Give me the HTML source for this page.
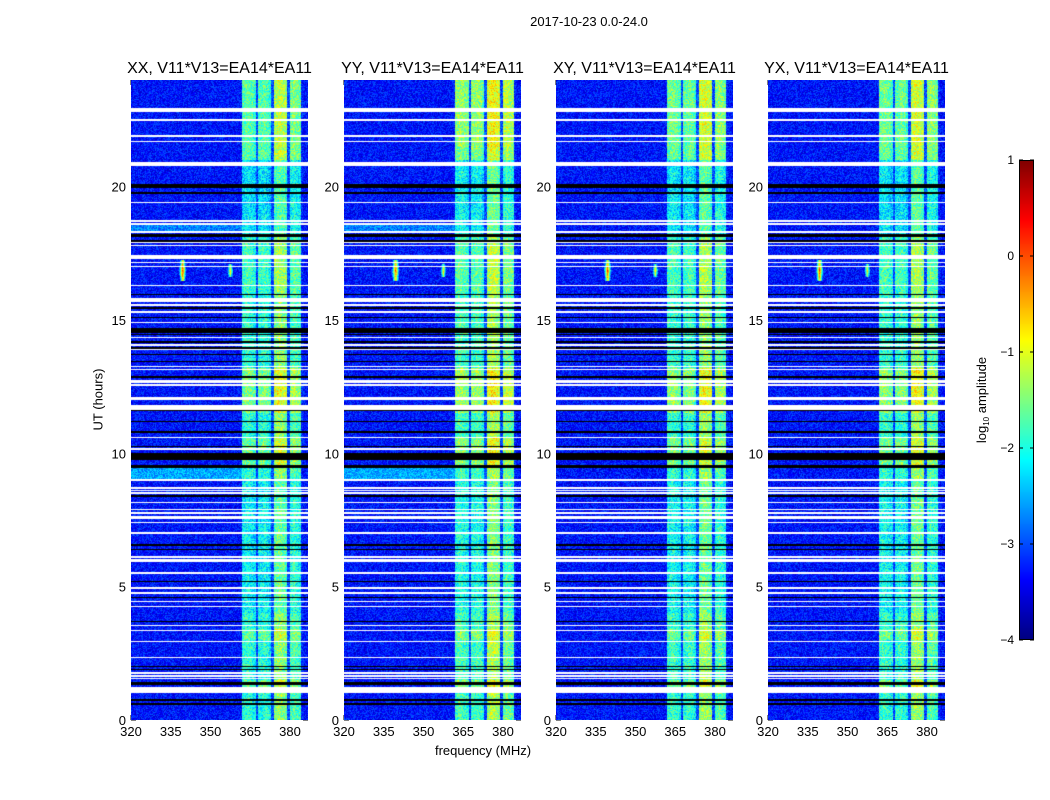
<!DOCTYPE html>
<html><head><meta charset="utf-8">
<style>
body{margin:0;background:#fff;font-family:"Liberation Sans",sans-serif;}
#root{position:relative;width:1050px;height:800px;overflow:hidden;background:#fff;}
.t{position:absolute;white-space:nowrap;color:#000;}
canvas{position:absolute;}
</style></head><body>
<div id="root">
<div class="t" style="left:489px;top:14px;width:200px;text-align:center;font-size:13px;">2017-10-23 0.0-24.0</div>
<div class="t" style="left:48px;top:392px;width:100px;text-align:center;font-size:13px;transform:rotate(-90deg);">UT (hours)</div>
<div class="t" style="left:383px;top:743px;width:200px;text-align:center;font-size:13px;">frequency (MHz)</div>
<svg id="ov" width="1050" height="800" style="position:absolute;left:0;top:0;"></svg>
</div>
<script>
// ---- data ----
const panelTitles = ["XX, V11*V13=EA14*EA11","YY, V11*V13=EA14*EA11","XY, V11*V13=EA14*EA11","YX, V11*V13=EA14*EA11"];
const xTicks = [320,335,350,365,380];
const yTicks = [0,5,10,15,20];
const cbTicks = [1,0,-1,-2,-3,-4];
const cbTickLabels = ["1","0","\u22121","\u22122","\u22123","\u22124"];
// per-channel baseline log10 amplitude, channels 320..386 MHz
const channelFreqs = Array.from({length:67},(_,i)=>320+i);
const channelLevel = [
-3.3,-3.3,-3.3,-3.3,-3.3,-3.3,-3.3,-3.3,-3.3,-3.3,
-3.3,-3.3,-3.3,-3.3,-3.3,-3.3,-3.3,-3.3,-3.3,-3.3,
-3.3,-3.3,-3.3,-3.3,-3.3,-3.3,-3.3,-3.3,-3.3,-3.3,
-3.3,-3.3,-3.3,-3.3,-3.3,-3.3,-3.3,-3.3,-3.3,-3.3,
-3.3,-3.3,-2.0,-1.9,-1.9,-2.0,-2.1,-3.0,-2.0,-2.0,
-1.9,-2.0,-2.2,-3.0,-1.5,-1.4,-1.4,-1.5,-1.6,-3.0,
-1.8,-1.7,-1.8,-1.9,-3.2,-3.3,-3.3];
const whiteFlags = [[22.8,22.95],[22.48,22.53],[21.88,21.93],[21.66,21.71],[20.78,20.93],[19.37,19.42],[18.69,18.74],[18.58,18.63],[18.28,18.33],[17.87,17.92],[17.76,17.81],[17.29,17.44],[17.12,17.17],[16.97,17.02],[16.26,16.31],[15.68,15.83],[15.54,15.59],[15.28,15.33],[14.87,14.92],[14.31,14.36],[14.04,14.09],[13.86,13.91],[13.22,13.27],[13.11,13.16],[12.64,12.75],[12.54,12.59],[12.0,12.11],[11.63,11.81],[10.56,10.61],[10.14,10.19],[8.96,9.04],[8.68,8.73],[8.57,8.62],[8.49,8.54],[8.12,8.17],[7.86,7.91],[7.74,7.79],[7.59,7.64],[7.52,7.57],[7.37,7.42],[6.99,7.04],[6.09,6.14],[5.98,6.03],[5.91,5.96],[5.49,5.54],[4.93,4.98],[4.74,4.79],[4.41,4.46],[4.22,4.27],[3.51,3.56],[3.32,3.37],[2.91,2.96],[2.31,2.36],[1.74,1.79],[1.63,1.68],[1.52,1.57],[1.01,1.24]];
const blackFlags = [[19.95,20.1],[19.74,19.79],[18.11,18.22],[17.94,17.99],[15.92,15.97],[15.43,15.48],[15.06,15.11],[14.51,14.7],[14.42,14.47],[14.15,14.2],[13.93,13.98],[13.67,13.72],[13.41,13.46],[12.84,12.89],[11.57,11.62],[11.16,11.21],[10.78,10.83],[10.22,10.27],[9.75,10.01],[9.45,9.56],[8.38,8.43],[6.54,6.59],[6.36,6.41],[5.16,5.21],[4.56,4.61],[3.66,3.71],[1.97,2.02],[1.86,1.91],[1.31,1.43],[0.73,0.78],[0.58,0.63]];
// band gain by UT segment [start,end,delta]
const bandSegments = [[21,24,0.25],[18.2,21,-0.3],[16,18,0.1],[11.5,13.2,0.45],[9.5,10.6,0.35],[4,9,-0.2],[3,3.4,0.3],[1,1.5,0.35]];
// broadband elevated rows [start,end,level] in parallel-hand panels
const brightRows = [[9.05,9.45,-2.55],[18.34,18.58,-2.75]];
// RFI spikes [freq, tStart, tEnd, peak]
const spikes = [[339.5,16.45,17.25,0.1],[357.5,16.6,17.1,-0.6]];
const panelGain = [0,0.15,0.05,0.05];

// ---- layout ----
const panelX=[131,344,556,768], PW=177, PT=80, PH=640;
const fMin=320, fMax=386.8, tMax=24;
const xScale=(p,f)=>panelX[p]+(f-fMin)/(fMax-fMin)*PW;
const yScale=t=>PT+PH-(t/tMax)*PH;
const cbX=1019,cbW=15,cbT=160,cbH=480,vMin=-4,vMax=1;
const cbY=v=>cbT+(vMax-v)/(vMax-vMin)*cbH;

function jet(t){t=Math.max(0,Math.min(1,t));const c=x=>Math.max(0,Math.min(1,x));
return [c(1.5-Math.abs(4*t-3))*255,c(1.5-Math.abs(4*t-2))*255,c(1.5-Math.abs(4*t-1))*255];}
function hash(a,b,c){let h=(a*374761393+b*668265263+c*2147483647)|0;h=(h^(h>>>13))*1274126177|0;h=h^(h>>>16);return ((h>>>0)%10000)/10000;}
const inFlag=(arr,t)=>arr.some(r=>t>=r[0]&&t<=r[1]);

const root=document.getElementById('root');
for(let p=0;p<4;p++){
  const cv=document.createElement('canvas');
  cv.width=PW;cv.height=PH;cv.style.left=panelX[p]+'px';cv.style.top=PT+'px';
  
  
  root.appendChild(cv);
  const ctx=cv.getContext('2d');const img=ctx.createImageData(PW,PH);
  for(let y=0;y<PH;y++){
    const t=(PT+PH-(PT+y+0.5))/PH*tMax;
    let flag=inFlag(whiteFlags,t)?1:inFlag(blackFlags,t)?2:0;
    let seg=0;for(const s of bandSegments){if(t>=s[0]&&t<s[1]){seg=s[2];break;}}
    let rowLvl=null;if(p<2)for(const r of brightRows){if(t>=r[0]&&t<r[1])rowLvl=r[2];}
    for(let x=0;x<PW;x++){
      const i=(y*PW+x)*4;
      if(flag===1){img.data[i]=img.data[i+1]=img.data[i+2]=255;img.data[i+3]=255;continue;}
      if(flag===2){img.data[i]=img.data[i+1]=img.data[i+2]=0;img.data[i+3]=255;continue;}
      const f=fMin+(x+0.5)/PW*(fMax-fMin);
      const ch=Math.max(0,Math.min(channelLevel.length-1,Math.floor(f-channelFreqs[0])));
      let v=channelLevel[ch];
      const band=v>-2.9;
      if(band){v+=seg+panelGain[p]*(t>21.5?2:1);}
      else if(rowLvl!==null&&f<362){v=rowLvl;}
      for(const s of spikes){const d=Math.abs(f-s[0]);if(t>=s[1]&&t<=s[2]){const mid=(s[1]+s[2])/2,tt=Math.abs(t-mid)/((s[2]-s[1])/2);
        const val=s[3]-d*2.2-tt*0.9;if(val>v)v=val;}}
      v+=(hash(x,y,p)-0.5)*(band?1.0:0.75);
      const c=jet((v-vMin)/(vMax-vMin));
      img.data[i]=c[0];img.data[i+1]=c[1];img.data[i+2]=c[2];img.data[i+3]=255;
    }
  }
  ctx.putImageData(img,0,0);
}
// colorbar
const cb=document.createElement('canvas');cb.width=cbW;cb.height=cbH;cb.style.left=cbX+'px';cb.style.top=cbT+'px';


root.insertBefore(cb,document.getElementById('ov'));
{const c2=cb.getContext('2d');for(let y=0;y<cbH;y++){const c=jet(1-(y+0.5)/cbH);c2.fillStyle=`rgb(${c[0]|0},${c[1]|0},${c[2]|0})`;c2.fillRect(0,y,cbW,1);}}

// overlay axes
const ov=document.getElementById('ov');const NS='http://www.w3.org/2000/svg';
function el(tag,attrs,txt){const e=document.createElementNS(NS,tag);for(const k in attrs)e.setAttribute(k,attrs[k]);if(txt!==undefined)e.textContent=txt;ov.appendChild(e);return e;}
for(let p=0;p<4;p++){
  const fr=el('rect',{x:panelX[p]+0.5,y:PT+0.5,width:PW-1,height:PH-1,fill:'none',stroke:'#000','stroke-width':1});
  
  
  const ti=el('text',{x:panelX[p]+PW/2,y:73,'text-anchor':'middle','font-size':16,'font-family':'Liberation Sans, sans-serif'},panelTitles[p]);
  
  
  xTicks.forEach(f=>{const x=xScale(p,f);
    el('line',{x1:x,x2:x,y1:PT+PH,y2:PT+PH-5,stroke:'#000'});el('line',{x1:x,x2:x,y1:PT,y2:PT+5,stroke:'#000'});
    const tl=el('text',{x:x,y:PT+PH+16,'text-anchor':'middle','font-size':13,'font-family':'Liberation Sans, sans-serif'},String(f));
    
    });
  yTicks.forEach(t=>{const y=yScale(t);
    el('line',{x1:panelX[p],x2:panelX[p]+5,y1:y,y2:y,stroke:'#000'});el('line',{x1:panelX[p]+PW,x2:panelX[p]+PW-5,y1:y,y2:y,stroke:'#000'});
    const tl=el('text',{x:panelX[p]-5,y:y+5,'text-anchor':'end','font-size':13,'font-family':'Liberation Sans, sans-serif'},String(t));
    
    });
}
el('rect',{x:cbX+0.5,y:cbT+0.5,width:cbW-1,height:cbH-1,fill:'none',stroke:'#000'});
cbTicks.forEach((v,i)=>{const y=cbY(v);
  el('line',{x1:cbX,x2:cbX+4,y1:y,y2:y,stroke:'#000'});el('line',{x1:cbX+cbW,x2:cbX+cbW-4,y1:y,y2:y,stroke:'#000'});
  const tl=el('text',{x:cbX-5,y:y+4,'text-anchor':'end','font-size':12,'font-family':'Liberation Sans, sans-serif'},cbTickLabels[i]);
  
  });
const cl=el('text',{x:0,y:0,'text-anchor':'middle','font-size':13,'font-family':'Liberation Sans, sans-serif',transform:'translate(986,400) rotate(-90)'});


cl.appendChild(document.createTextNode('log'));
const sub=document.createElementNS(NS,'tspan');sub.setAttribute('font-size','8');sub.setAttribute('dy','3');sub.textContent='10';cl.appendChild(sub);
const rest=document.createElementNS(NS,'tspan');rest.setAttribute('dy','-3');rest.textContent=' amplitude';cl.appendChild(rest);
</script>
</body></html>
